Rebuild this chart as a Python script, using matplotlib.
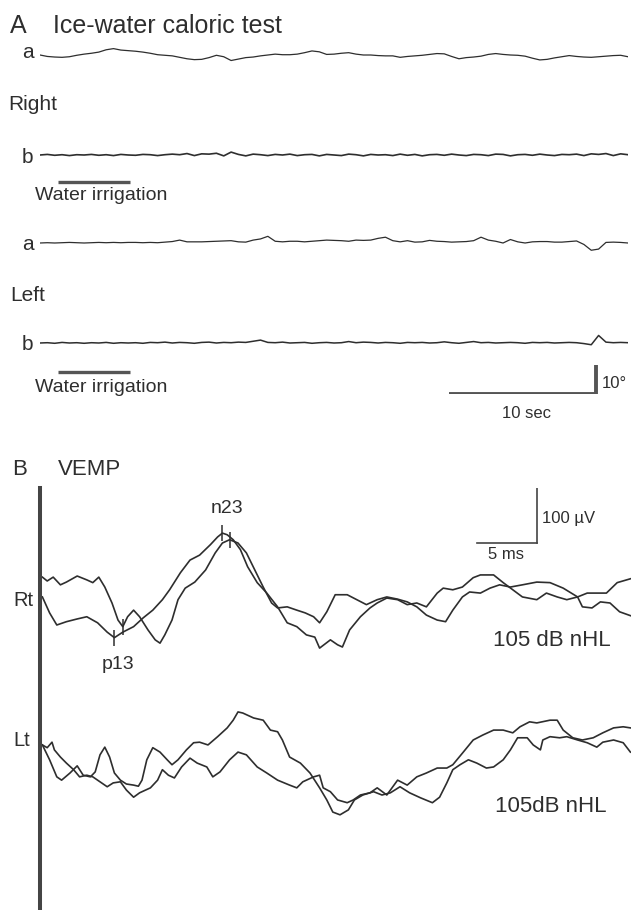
import numpy as np
import matplotlib.pyplot as plt

plt.rcParams["font.family"] = ["Liberation Sans", "DejaVu Sans"]

INK = "#2e2e2e"
W, H = 631, 910

# ── A: ice-water caloric test, eye position (deg) sampled every 0.5 s ────────
cal_t = np.arange(81) * 0.5

right_a = [0.0, -0.5, -0.7, -0.8, -0.6, -0.1, 0.3, 0.6, 1.0, 1.8,
           2.2, 1.7, 1.5, 1.3, 1.0, 0.6, 0.1, -0.1, -0.3, -0.8,
           -1.3, -1.6, -1.5, -0.9, -0.1, -0.6, -1.9, -1.4, -0.9, -0.7,
           -0.3, 0.0, 0.3, 0.1, 0.1, 0.3, 0.8, 1.4, 1.1, 0.2,
           0.3, 0.6, 0.8, 0.3, 0.0, 0.0, -0.2, -0.3, -0.3, -0.8,
           -0.5, -0.3, -0.1, 0.2, 0.5, 0.4, -0.5, -1.3, -0.9, -0.7,
           -0.4, 0.2, 0.5, 0.2, 0.0, -0.1, -0.4, -1.1, -1.7, -1.5,
           -1.0, -0.6, -0.2, -0.5, -0.7, -0.8, -0.6, -0.4, -0.2, -0.1, -0.6]
right_b = [0.0, 0.2, -0.1, 0.1, -0.2, 0.1, 0.0, 0.2, -0.1, 0.1,
           -0.2, 0.2, 0.0, -0.1, 0.2, 0.1, -0.2, 0.1, 0.3, 0.1,
           0.5, -0.2, 0.4, 0.3, 0.6, -0.3, 1.0, 0.2, -0.3, 0.3,
           0.1, -0.2, 0.2, 0.0, 0.3, -0.2, 0.1, 0.2, -0.3, 0.2,
           0.0, -0.2, 0.3, 0.1, -0.3, 0.2, 0.0, 0.1, -0.2, 0.3,
           -0.1, 0.2, -0.3, 0.1, 0.2, -0.1, 0.3, 0.0, -0.2, 0.2,
           0.1, -0.2, 0.3, 0.2, -0.3, 0.1, 0.2, -0.1, 0.3, 0.0,
           -0.2, 0.2, 0.1, 0.3, -0.2, 0.4, 0.2, 0.5, -0.2, 0.4, 0.1]
left_a = [0.0, 0.1, 0.0, 0.1, 0.2, 0.1, 0.0, 0.1, 0.2, 0.1,
          0.2, 0.1, 0.2, 0.2, 0.1, 0.2, 0.1, 0.3, 0.5, 1.0,
          0.4, 0.4, 0.4, 0.5, 0.6, 0.7, 0.8, 0.4, 0.3, 1.0,
          1.4, 2.3, 0.6, 0.4, 0.6, 0.6, 0.4, 0.6, 0.8, 1.0,
          0.9, 0.8, 0.6, 1.0, 0.9, 1.0, 1.6, 2.0, 0.8, 0.4,
          0.8, 0.3, 0.4, 0.9, 0.6, 0.5, 0.3, 0.4, 0.5, 0.8,
          2.0, 1.0, 0.6, 0.0, 1.2, 0.4, 0.0, 0.4, 0.5, 0.5,
          0.3, 0.3, 0.5, 0.7, -0.5, -2.5, -2.1, 0.2, 0.3, 0.2, 0.0]
left_b = [0.0, 0.1, -0.1, 0.2, 0.0, 0.1, -0.1, 0.1, 0.0, 0.2,
          -0.1, 0.1, 0.0, 0.1, -0.1, 0.2, 0.1, 0.3, 0.0, 0.2,
          0.1, -0.1, 0.2, 0.3, 0.0, 0.2, 0.1, 0.3, 0.2, 0.6,
          1.0, 0.2, 0.1, 0.3, 0.0, 0.1, 0.2, -0.1, 0.1, 0.2,
          0.0, 0.1, 0.5, 0.1, 0.3, 0.2, 0.0, 0.2, 0.1, -0.1,
          0.2, 0.1, 0.2, 0.0, 0.1, 0.4, 0.1, -0.1, 0.2, 0.5,
          0.1, 0.2, 0.0, 0.1, 0.2, 0.1, -0.1, 0.2, 0.1, 0.2,
          0.0, 0.1, 0.2, 0.1, -0.2, -0.6, 2.6, 0.3, 0.1, 0.2, 0.1]

irrigation = (1.2, 6.1)        # s
cal_scale_t = (27.8, 37.8)     # 10 sec
cal_scale_deg = 10

# ── B: VEMP, time (ms) / amplitude (uV) ──────────────────────────────────────
rt1_t = [0.2, 0.8, 1.4, 2.2, 3.1, 3.9, 4.8, 5.6, 6.2, 6.9, 7.8, 8.6, 9.4, 10.2, 10.8,
         11.7, 12.5, 13.3, 14.2, 14.8, 15.2, 15.6, 16.1, 16.7, 17.3, 18.1, 18.9, 19.8,
         20.6, 21.4, 22.2, 22.9, 23.3, 24.2, 24.8, 25.2, 25.8, 26.7, 27.5, 28.1, 28.9,
         29.8, 30.6, 31.4, 32.2, 33.1, 33.6, 34.4, 35.2, 36.1, 36.7, 37.8, 38.6, 39.4,
         40.2, 41.4, 42.2, 43.1, 43.9, 44.8, 45.6, 46.4, 47.2, 48.1, 49.2]
rt1_v = [-31, -60, -82, -76, -71, -67, -78, -95, -105, -95, -85, -69, -55, -36, -18,
         13, 36, 45, 64, 78, 85, 82, 73, 55, 24, -5, -24, -49,
         -78, -85, -100, -104, -124, -109, -118, -122, -91, -67, -51, -42, -33,
         -36, -45, -42, -49, -24, -15, -18, -13, 4, 9, 9, -5, -18,
         -31, -36, -24, -31, -36, -31, -24, -24, -24, -5, 2]

rt2_t = [0.2, 0.6, 1.1, 1.7, 2.2, 3.1, 3.9, 4.4, 4.9, 5.4, 6.0, 6.5, 6.9, 7.3, 7.8,
         8.3, 9.0, 9.6, 10.0, 10.4, 11.0, 11.5, 12.1, 12.9, 13.8, 14.6, 15.2, 15.8,
         16.5, 17.2, 17.9, 18.6, 19.3, 19.8, 20.6, 21.4, 22.1, 22.8, 23.3, 23.9, 24.6,
         25.6, 26.4, 27.2, 28.1, 28.9, 29.8, 30.6, 31.4, 32.2, 33.1, 33.8, 34.4, 35.2,
         35.8, 36.7, 37.5, 38.3, 39.2, 40.2, 41.4, 42.5, 43.6, 44.8, 45.2, 46.0, 46.7,
         47.5, 48.3, 49.2]
rt2_v = [5, -2, 5, -9, -4, 7, 0, -5, 5, -13, -42, -73, -85, -67, -55,
         -67, -91, -109, -115, -100, -73, -36, -15, -4, 18, 49, 67, 73,
         67, 49, 18, -13, -42, -51, -49, -55, -60, -67, -78, -58, -27,
         -27, -36, -45, -36, -31, -35, -40, -49, -64, -73, -76, -55, -31,
         -22, -24, -15, -9, -13, -9, -4, -5, -15, -31, -49, -51, -40,
         -42, -58, -65]

lt1_t = [0.2, 0.8, 1.4, 1.8, 2.5, 3.1, 3.6, 4.2, 4.6, 5.0, 5.4, 5.8, 6.2, 6.7, 7.2,
         7.8, 8.2, 8.5, 8.9, 9.4, 10.0, 10.6, 11.0, 11.5, 12.2, 12.8, 13.3, 14.0, 14.8,
         15.6, 16.1, 16.5, 16.9, 17.8, 18.6, 19.2, 19.8, 20.2, 20.8, 21.7, 22.5, 23.3,
         23.9, 24.4, 25.0, 25.7, 26.2, 26.9, 27.8, 28.5, 29.2, 30.0, 30.8, 31.7, 32.7,
         33.3, 33.9, 34.4, 35.0, 35.7, 36.4, 37.2, 37.8, 38.6, 39.2, 39.8, 40.6, 41.1,
         41.7, 41.9, 42.5, 43.3, 43.9, 44.8, 45.6, 46.4, 46.9, 47.8, 48.6, 49.2]
lt1_v = [0, -27, -58, -64, -51, -38, -55, -58, -49, -18, -4, -22, -51, -64, -71,
         -73, -75, -64, -27, -5, -13, -27, -36, -27, -9, 4, 5, 0, 15,
         31, 45, 60, 58, 49, 45, 27, 24, 9, -22, -33, -51, -78,
         -100, -122, -127, -118, -100, -91, -85, -91, -87, -76, -87, -96, -105,
         -95, -69, -45, -36, -27, -33, -42, -40, -27, -9, 13, 13, 0,
         -9, 9, 15, 13, 15, 9, 4, -4, 5, 9, 4, -13]

lt2_t = [0.2, 0.6, 1.0, 1.2, 1.7, 2.2, 2.8, 3.3, 3.9, 4.4, 5.0, 5.6, 6.1, 6.7, 7.2,
         7.8, 8.3, 9.2, 9.8, 10.2, 10.7, 11.2, 11.8, 12.5, 13.1, 13.9, 14.4, 15.0, 15.8,
         16.5, 17.2, 18.1, 18.9, 19.8, 20.8, 21.4, 21.9, 22.8, 23.3, 23.6, 24.2, 24.8,
         25.6, 26.1, 26.7, 27.5, 28.1, 28.9, 29.8, 30.6, 31.4, 32.2, 33.1, 33.9, 34.4,
         35.2, 36.1, 36.9, 37.8, 38.6, 39.4, 40.0, 40.8, 41.4, 42.5, 43.1, 43.6, 44.4,
         45.2, 46.1, 46.9, 47.8, 48.6, 49.2]
lt2_v = [0, -5, 5, -9, -22, -33, -45, -58, -55, -58, -67, -76, -69, -67, -82,
         -95, -87, -78, -64, -45, -55, -60, -40, -24, -33, -40, -58, -49, -27,
         -13, -18, -40, -51, -64, -73, -78, -67, -58, -55, -78, -85, -100,
         -105, -100, -91, -87, -78, -91, -64, -73, -58, -51, -42, -42, -36,
         -15, 9, 18, 27, 27, 22, 33, 42, 40, 45, 45, 27, 13, 9, 13, 22, 31, 33, 31]

# peak labels: (time ms, amplitude uV) on each Rt trace
p13_marks = [(6.2, -105), (6.9, -85)]
n23_marks = [(15.2, 85), (15.8, 73)]

vemp_scale_t = (36.4, 41.4)    # 5 ms
vemp_scale_uv = (67, 167)      # 100 uV
LT_OFFSET = -300               # vertical spacing between Rt and Lt rows


fig = plt.figure(figsize=(W / 100, H / 100), dpi=100)
fig.patch.set_facecolor("white")


def px_axes(x0, y0, x1, y1):
    ax = fig.add_axes([x0 / W, 1 - y1 / H, (x1 - x0) / W, (y1 - y0) / H])
    ax.set_axis_off()
    return ax


def px_text(x, y, s, size=15, **kw):
    fig.text(x / W, 1 - y / H, s, fontsize=size, color=INK, va="baseline", **kw)


# caloric traces: 10 deg = 29 px, 40 s across the sweep
cal_rows = [(55, right_a, 0.9), (155, right_b, 1.2),
            (243, left_a, 0.9), (343, left_b, 1.1)]
cal_axes = []
for base, trace, lw in cal_rows:
    ax = px_axes(40, base - 14.5, 628, base + 14.5)
    ax.set_xlim(0, 40)
    ax.set_ylim(-5, 5)
    ax.plot(cal_t, trace, color=INK, lw=lw)
    cal_axes.append(ax)

for ax, drop in [(cal_axes[1], -9.3), (cal_axes[3], -10.0)]:
    ax.plot(irrigation, [drop, drop], color="#555555", lw=2.4,
            solid_capstyle="butt", clip_on=False)

ax_sc = px_axes(40, 365, 628, 394)
ax_sc.set_xlim(0, 40)
ax_sc.set_ylim(0, 10)
ax_sc.plot(cal_scale_t, [0, 0], color="#555555", lw=2.8, solid_capstyle="butt")
ax_sc.plot([cal_scale_t[1]] * 2, [0, cal_scale_deg], color="#555555", lw=2.8,
           solid_capstyle="butt", clip_on=False)

px_text(10, 33, "A", size=18)
px_text(53, 33, "Ice-water caloric test", size=18)
px_text(22, 58, "a")
px_text(8, 110, "Right")
px_text(22, 163, "b")
px_text(35, 200, "Water irrigation", size=14)
px_text(22, 250, "a")
px_text(10, 301, "Left")
px_text(22, 350, "b")
px_text(35, 392, "Water irrigation", size=14)
px_text(602, 388, "10°", size=12)
px_text(526, 418, "10 sec", size=12, ha="center")

# VEMP panel: 12 px per ms, 0.55 px per uV
axb = fig.add_axes([40 / W, 0, 591 / W, 422 / H])
axb.set_xlim(0, 49.25)
axb.set_ylim(-600, 167)
for side in ["top", "right", "bottom"]:
    axb.spines[side].set_visible(False)
axb.spines["left"].set_linewidth(2.9)
axb.spines["left"].set_color("#444444")
axb.set_xticks([])
axb.set_yticks([])
axb.patch.set_alpha(0)

for t, v, off in [(rt1_t, rt1_v, 0), (rt2_t, rt2_v, 0),
                  (lt1_t, lt1_v, LT_OFFSET), (lt2_t, lt2_v, LT_OFFSET)]:
    axb.plot(t, np.array(v) + off, color=INK, lw=1.2)

for t, v in p13_marks + n23_marks:
    axb.plot(t, v, marker="|", ms=11, mew=1.1, color=INK)

axb.plot(vemp_scale_t, [vemp_scale_uv[0]] * 2, color="#444444", lw=1.2)
axb.plot([vemp_scale_t[1]] * 2, vemp_scale_uv, color="#444444", lw=1.2)

px_text(12, 475, "B", size=16)
px_text(58, 475, "VEMP", size=16)
px_text(227, 513, "n23", size=14, ha="center")
px_text(13, 606, "Rt", size=14.5)
px_text(118, 669, "p13", size=14, ha="center")
px_text(542, 523, "100 µV", size=12)
px_text(506, 559, "5 ms", size=12, ha="center")
px_text(493, 646, "105 dB nHL", size=16)
px_text(13, 746, "Lt", size=14.5)
px_text(495, 812, "105dB nHL", size=16)

fig.savefig("out.png", dpi=100, facecolor="white")
